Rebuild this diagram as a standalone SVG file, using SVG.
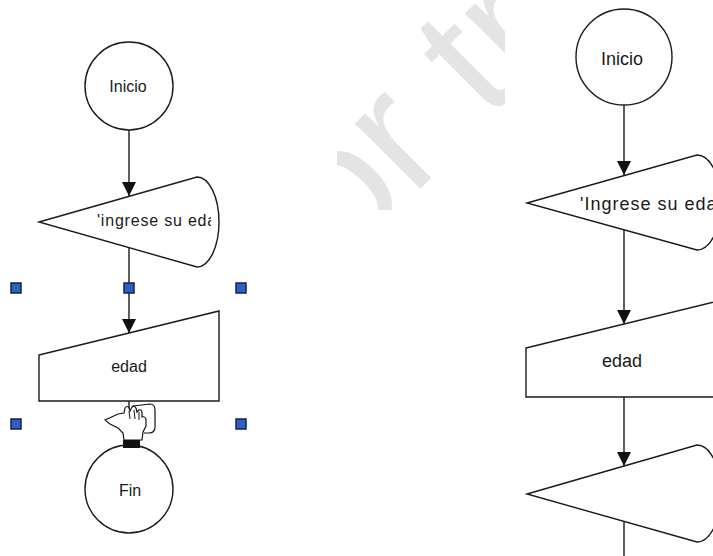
<svg xmlns="http://www.w3.org/2000/svg" width="713" height="556" viewBox="0 0 713 556">
<style>
.shape{fill:#fff;stroke:#1a1a1a;stroke-width:1.4}
.conn{fill:none;stroke:#1a1a1a;stroke-width:1.4}
.t{font-family:"Liberation Sans",Arial,sans-serif;fill:#1a1a1a;text-anchor:middle}
.tl{font-size:16px}
.tr{font-size:18px}
.h{fill:#2f5fc4;stroke:#16264a;stroke-width:1.5}
.wm{font-family:"Liberation Sans",Arial,sans-serif;font-size:175px;fill:#e4e4e4}
</style>
<defs>
<marker id="arr" markerUnits="userSpaceOnUse" viewBox="0 0 14 14" markerWidth="14" markerHeight="14" refX="14" refY="7" orient="auto">
<path d="M0,0 L14,7 L0,14 Z" fill="#111"/>
</marker>
<clipPath id="wmclip"><rect x="337" y="0" width="168" height="210"/></clipPath>
<clipPath id="txtclip1"><rect x="40" y="170" width="171" height="100"/></clipPath>
</defs>
<rect width="713" height="556" fill="#fff"/>
<g id="watermark" clip-path="url(#wmclip)">
<text class="wm" transform="translate(343,266) rotate(-45)">or tr</text>
</g>
<g id="connectors">
<line class="conn" x1="129" y1="130" x2="129" y2="196" marker-end="url(#arr)"/>
<line class="conn" x1="129" y1="248" x2="129" y2="333" marker-end="url(#arr)"/>
<line class="conn" x1="129" y1="401" x2="129" y2="445"/>
<line class="conn" x1="624" y1="105" x2="624" y2="175" marker-end="url(#arr)"/>
<line class="conn" x1="624" y1="230" x2="624" y2="324" marker-end="url(#arr)"/>
<line class="conn" x1="624" y1="397" x2="624" y2="466" marker-end="url(#arr)"/>
<line class="conn" x1="624" y1="522" x2="624" y2="556"/>
</g>
<g id="inicio-left">
<circle class="shape" cx="129" cy="86" r="44"/>
<text class="t tl" x="128" y="92">Inicio</text>
</g>
<g id="display-left">
<path class="shape" d="M39,222 L197,177 A22,45 0 0 1 197,267 Z"/>
<text class="t tl" x="97" y="226" style="text-anchor:start;letter-spacing:0.8px" clip-path="url(#txtclip1)">'ingrese su eda</text>
</g>
<g id="input-left">
<path class="shape" d="M39,355 L219,311 L219,401 L39,401 Z"/>
<text class="t tl" x="129" y="372">edad</text>
</g>
<g id="fin-left">
<circle class="shape" cx="129" cy="489" r="44"/>
<text class="t tl" x="130" y="496">Fin</text>
</g>
<g id="handles">
<rect class="h" x="11" y="283" width="10" height="10"/>
<rect class="h" x="124" y="283" width="10" height="10"/>
<rect class="h" x="236" y="283" width="10" height="10"/>
<rect class="h" x="11" y="419" width="10" height="10"/>
<rect class="h" x="236" y="419" width="10" height="10"/>
</g>
<g id="cursor">
<path d="M133,406 L150,404 Q155,404 155,410 L155,427 Q155,433 149,433 L144,433" fill="none" stroke="#111" stroke-width="1.2"/>
<path d="M105,420 L118,414 L124,413 L125,408 Q127,405 129,408 L130,411 L132,407 Q134,405 136,408 L137,412 L139,410 Q141,409 142,412 L142,417 Q145,416 146,419 L146,426 L143,432 L142,440 L124,440 L123,433 L118,428 L110,424 Z" fill="#fff" stroke="#111" stroke-width="1.2"/>
<path d="M129,411 L130,419 M134,410 L135,419 M139,412 L139,420" fill="none" stroke="#111" stroke-width="1"/>
<rect x="123" y="440" width="17" height="8" fill="#111"/>
</g>
<g id="inicio-right">
<circle class="shape" cx="624" cy="57" r="48"/>
<text class="t tr" x="622" y="65">Inicio</text>
</g>
<g id="display-right">
<path class="shape" d="M527,203 L697,155 A24,47.5 0 0 1 697,250 Z"/>
<text class="t tr" x="580" y="210" style="text-anchor:start;letter-spacing:1px">'Ingrese su eda</text>
</g>
<g id="input-right">
<path class="shape" d="M526,348 L730,298 L730,397 L526,397 Z"/>
<text class="t tr" x="622" y="367">edad</text>
</g>
<g id="display-right-2">
<path class="shape" d="M527,494 L697,445 A24,48.5 0 0 1 697,542 Z"/>
</g>
</svg>
